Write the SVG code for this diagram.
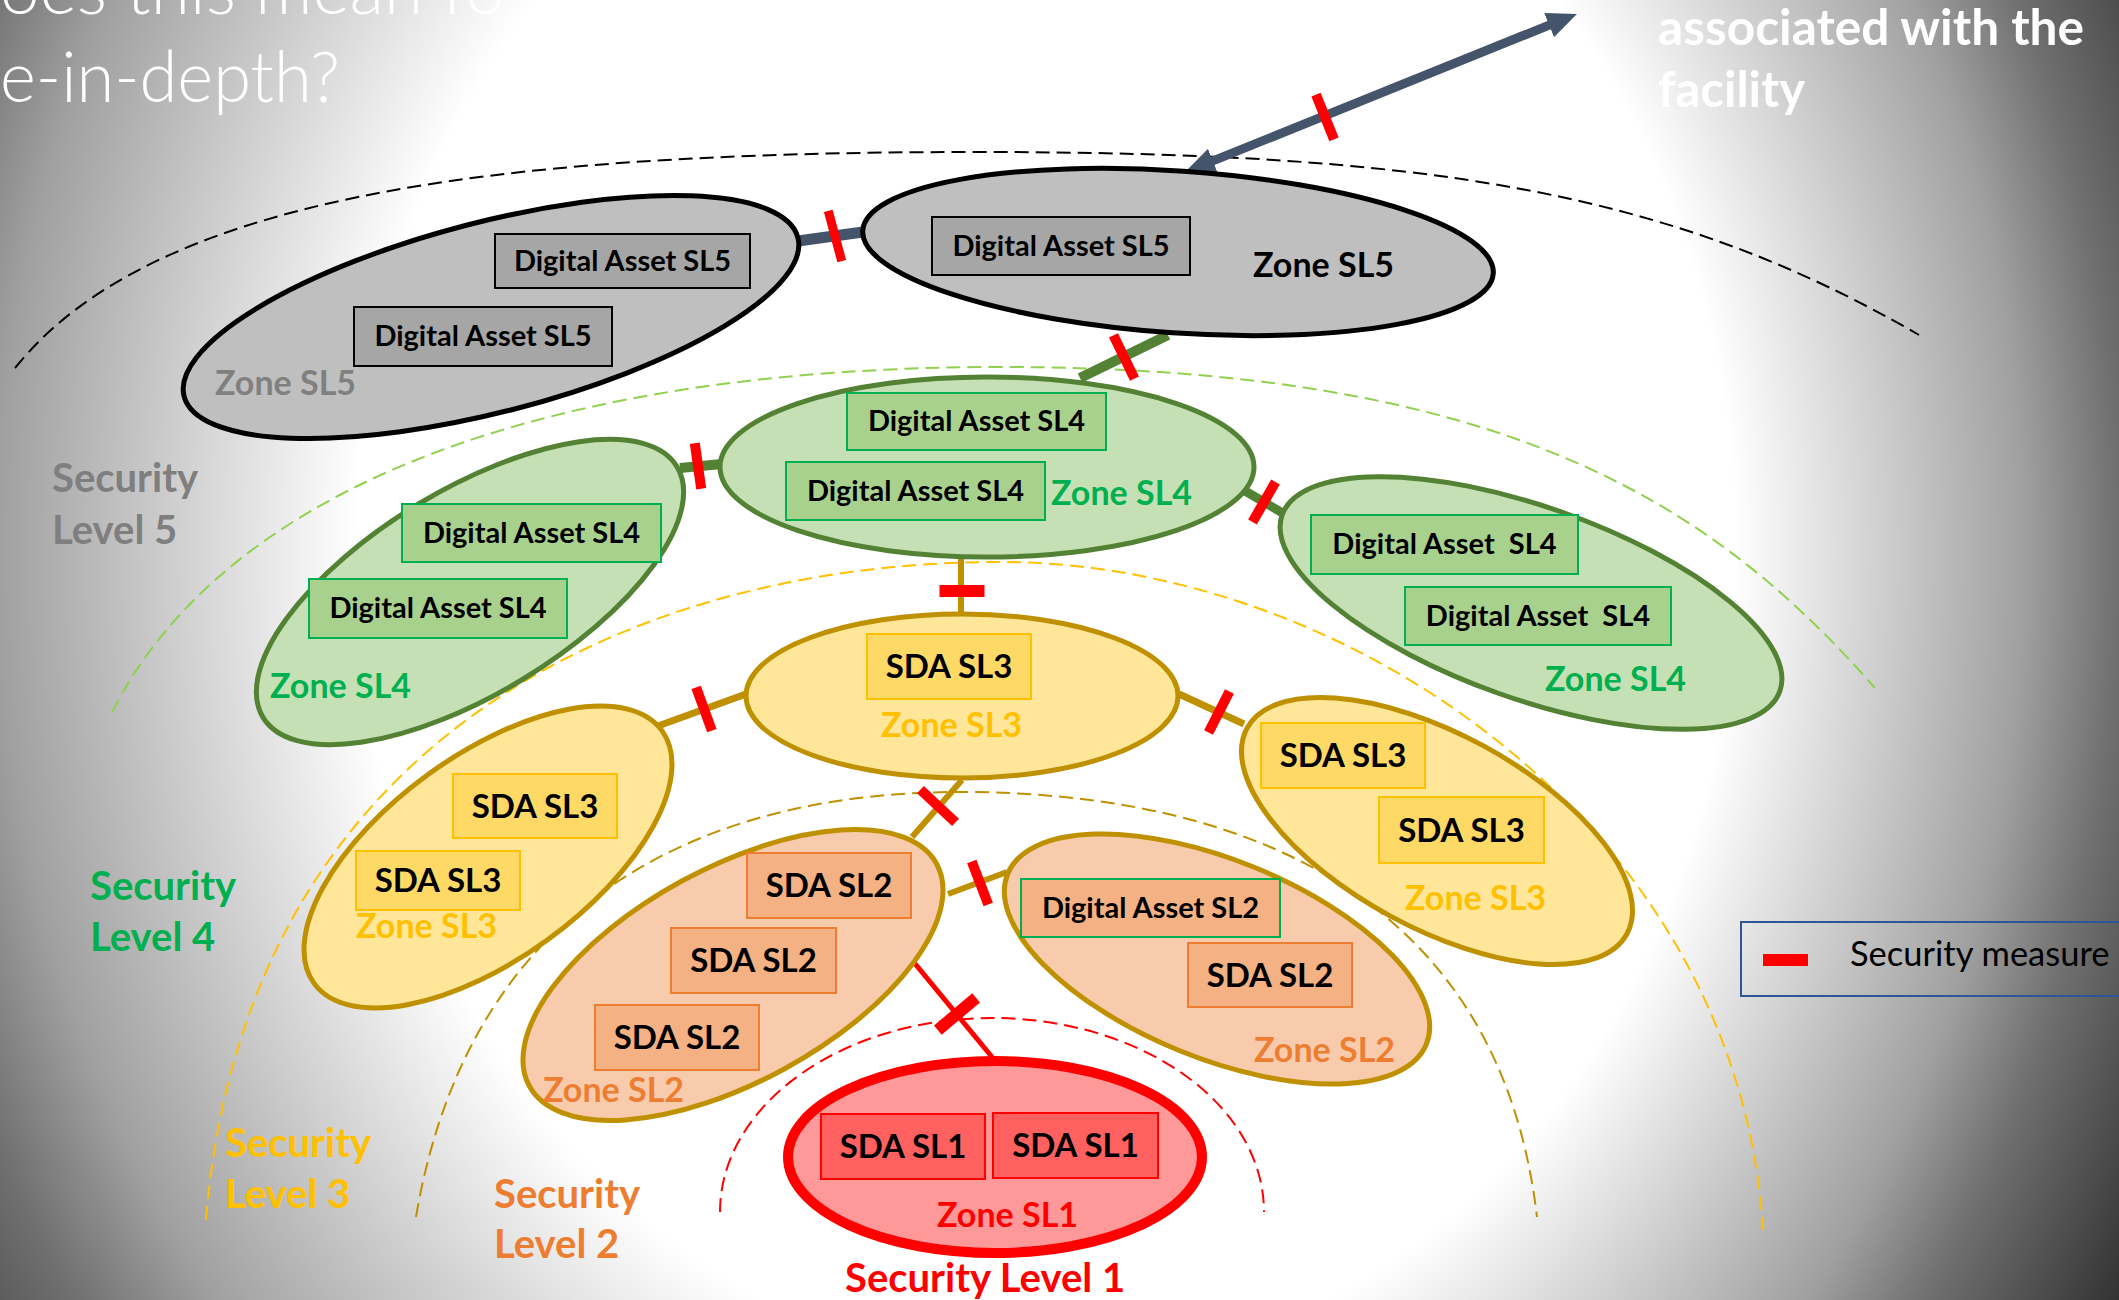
<svg xmlns="http://www.w3.org/2000/svg" width="2119" height="1300" viewBox="0 0 2119 1300">
<defs>
<radialGradient id="bg" gradientUnits="userSpaceOnUse" cx="980" cy="551" r="1300" fx="1120" fy="551" gradientTransform="translate(0 551) scale(1 1.19) translate(0 -551)">
<stop offset="0.53" stop-color="#ffffff"/>
<stop offset="0.78" stop-color="#a0a0a0"/>
<stop offset="0.86" stop-color="#707070"/>
<stop offset="1" stop-color="#333333"/>
</radialGradient>
<marker id="ah" markerUnits="userSpaceOnUse" viewBox="0 0 30 26" markerWidth="30" markerHeight="26" refX="10" refY="13" orient="auto-start-reverse"><path d="M0,0 L30,13 L0,26 z" fill="#44546a"/></marker>
<style>
.t{font-family:Lato,"Liberation Sans",sans-serif;font-weight:700}
.title{font-family:Lato,"Liberation Sans",sans-serif;font-weight:300;font-size:71px;fill:#fff}
.hd{font-family:Lato,"Liberation Sans",sans-serif;font-weight:700;font-size:49px;fill:#fff}
.da{font-size:29px;text-anchor:middle;fill:#000}
.sda{font-size:33px;text-anchor:middle;fill:#000}
.zn{font-size:34px}
.sl{font-size:40px}
.e5{fill:#bfbfbf;stroke:#000;stroke-width:5}
.e4{fill:#c5e0b4;stroke:#548235;stroke-width:5}
.e3{fill:#ffe699;stroke:#bf9000;stroke-width:5}
.e2{fill:#f8cbad;stroke:#bf9000;stroke-width:5}
.e1{fill:#ff9999;stroke:#ff0000;stroke-width:10}
.b5{fill:#a6a6a6;stroke:#000;stroke-width:2}
.b4{fill:#a9d18e;stroke:#00b050;stroke-width:2}
.b3{fill:#ffd966;stroke:#ffc000;stroke-width:2}
.b2{fill:#f4b183;stroke:#ed7d31;stroke-width:2}
.b2g{fill:#f4b183;stroke:#00b050;stroke-width:2}
.b1{fill:#ff6161;stroke:#ff0000;stroke-width:2}
.sm{fill:#ff0000}
.arc{fill:none;stroke-width:2;stroke-dasharray:14 7}
.c5{stroke:#44546a;fill:none}
.c4{stroke:#548235;fill:none}
.c3{stroke:#bf9000;fill:none}
.c1{stroke:#ff0000;fill:none}
</style>
</defs>
<rect x="0" y="0" width="2119" height="1300" fill="url(#bg)"/>

<g id="title">
<text class="title" x="0" y="14" textLength="505" lengthAdjust="spacingAndGlyphs">oes this mean fo</text>
<text class="title" x="0" y="102" textLength="340" lengthAdjust="spacingAndGlyphs">e-in-depth?</text>
<text class="hd" x="1658" y="45" textLength="426" lengthAdjust="spacingAndGlyphs">associated with the</text>
<text class="hd" x="1658" y="107">facility</text>
</g>

<g id="level-boundaries">
<path class="arc" stroke="#000" d="M15,368 C150,200 475,152 975,152 C1425,152 1669,190 1919,335"/>
<path class="arc" stroke="#92d050" d="M112,712 C230,480 560,367 1000,367 C1500,367 1710,500 1875,688"/>
<path class="arc" stroke="#ffc000" d="M206,1220 C245,740 630,562 1000,562 C1350,562 1739,830 1763,1230"/>
<path class="arc" stroke="#bf9000" d="M416,1217 C472,887 720,792 960,792 C1250,792 1500,900 1537,1217"/>
<path class="arc" stroke="#ff0000" d="M720,1212 A272,194 0 0 1 1264,1212"/>
</g>

<g id="connectors">
<line class="c5" x1="798" y1="241" x2="863" y2="232" stroke-width="11"/>
<line class="c5" x1="1203.6" y1="164.6" x2="1558.4" y2="21.4" stroke-width="9" marker-start="url(#ah)" marker-end="url(#ah)"/>
<line class="c4" x1="1168" y1="335" x2="1080" y2="378" stroke-width="10"/>
<line class="c4" x1="680" y1="468" x2="722" y2="464" stroke-width="10"/>
<line class="c4" x1="1240" y1="488" x2="1286" y2="515" stroke-width="9"/>
<line class="c3" x1="961" y1="556" x2="961" y2="614" stroke-width="6"/>
<line class="c3" x1="746" y1="694" x2="658" y2="726" stroke-width="7"/>
<line class="c3" x1="1179" y1="694" x2="1244" y2="724" stroke-width="7"/>
<line class="c3" x1="962" y1="780" x2="912" y2="837" stroke-width="6"/>
<line class="c3" x1="948" y1="894" x2="1007" y2="872" stroke-width="6"/>
<line class="c1" x1="912" y1="960" x2="992" y2="1057" stroke-width="5"/>
</g>

<g id="zone-sl5-left">
<ellipse class="e5" cx="491" cy="317" rx="317" ry="95" transform="rotate(-14.5 491 317)"/>
<rect class="b5" x="495" y="234" width="255" height="54"/>
<text class="t da" x="622.5" y="271">Digital Asset SL5</text>
<rect class="b5" x="354" y="307" width="258" height="59"/>
<text class="t da" x="483" y="346">Digital Asset SL5</text>
<text class="t zn" x="215" y="395" fill="#808080">Zone SL5</text>
</g>

<g id="zone-sl5-right">
<ellipse class="e5" cx="1178" cy="252" rx="316" ry="81" transform="rotate(3.9 1178 252)"/>
<rect class="b5" x="932" y="217" width="258" height="58"/>
<text class="t da" x="1061" y="256">Digital Asset SL5</text>
<text class="t zn" x="1253" y="277" fill="#000">Zone SL5</text>
</g>

<g id="zone-sl4-top">
<ellipse class="e4" cx="987" cy="467" rx="267" ry="90"/>
<rect class="b4" x="847" y="393" width="259" height="57"/>
<text class="t da" x="976.5" y="431">Digital Asset SL4</text>
<rect class="b4" x="786" y="462" width="259" height="58"/>
<text class="t da" x="915.5" y="501">Digital Asset SL4</text>
<text class="t zn" x="1051" y="505" fill="#00b050">Zone SL4</text>
</g>

<g id="zone-sl4-left">
<ellipse class="e4" cx="470" cy="592" rx="242" ry="102" transform="rotate(-31.2 470 592)"/>
<rect class="b4" x="402" y="504" width="259" height="58"/>
<text class="t da" x="531.5" y="543">Digital Asset SL4</text>
<rect class="b4" x="309" y="579" width="258" height="59"/>
<text class="t da" x="438" y="618">Digital Asset SL4</text>
<text class="t zn" x="270" y="698" fill="#00b050">Zone SL4</text>
</g>

<g id="zone-sl4-right">
<ellipse class="e4" cx="1531" cy="603" rx="264" ry="96" transform="rotate(19.5 1531 603)"/>
<rect class="b4" x="1311" y="515" width="267" height="59"/>
<text class="t da" x="1444.5" y="554" style="white-space:pre">Digital Asset  SL4</text>
<rect class="b4" x="1405" y="587" width="266" height="58"/>
<text class="t da" x="1538" y="626" style="white-space:pre">Digital Asset  SL4</text>
<text class="t zn" x="1545" y="691" fill="#00b050">Zone SL4</text>
</g>

<g id="zone-sl3-center">
<ellipse class="e3" cx="962" cy="696" rx="216" ry="82"/>
<rect class="b3" x="867" y="634" width="164" height="65"/>
<text class="t sda" x="949" y="678">SDA SL3</text>
<text class="t zn" x="881" y="737" fill="#ffc000">Zone SL3</text>
</g>

<g id="zone-sl3-left">
<ellipse class="e3" cx="488" cy="857" rx="215" ry="102" transform="rotate(-36 488 857)"/>
<rect class="b3" x="453" y="774" width="164" height="64"/>
<text class="t sda" x="535" y="818">SDA SL3</text>
<rect class="b3" x="356" y="851" width="164" height="59"/>
<text class="t sda" x="438" y="892">SDA SL3</text>
<text class="t zn" x="356" y="938" fill="#ffc000">Zone SL3</text>
</g>

<g id="zone-sl3-right">
<ellipse class="e3" cx="1437" cy="831" rx="216" ry="97" transform="rotate(28.4 1437 831)"/>
<rect class="b3" x="1261" y="723" width="164" height="65"/>
<text class="t sda" x="1343" y="767">SDA SL3</text>
<rect class="b3" x="1379" y="797" width="165" height="66"/>
<text class="t sda" x="1461.5" y="842">SDA SL3</text>
<text class="t zn" x="1405" y="910" fill="#ffc000">Zone SL3</text>
</g>

<g id="zone-sl2-left">
<ellipse class="e2" cx="733" cy="975" rx="232" ry="107" transform="rotate(-28.6 733 975)"/>
<rect class="b2" x="747" y="853" width="164" height="65"/>
<text class="t sda" x="829" y="897">SDA SL2</text>
<rect class="b2" x="671" y="928" width="165" height="65"/>
<text class="t sda" x="753.5" y="972">SDA SL2</text>
<rect class="b2" x="595" y="1005" width="164" height="65"/>
<text class="t sda" x="677" y="1049">SDA SL2</text>
<text class="t zn" x="543" y="1102" fill="#ed7d31">Zone SL2</text>
</g>

<g id="zone-sl2-right">
<ellipse class="e2" cx="1217" cy="959" rx="226" ry="99" transform="rotate(22.1 1217 959)"/>
<rect class="b2g" x="1021" y="879" width="259" height="58"/>
<text class="t da" x="1150.5" y="918">Digital Asset SL2</text>
<rect class="b2" x="1188" y="943" width="164" height="64"/>
<text class="t sda" x="1270" y="987">SDA SL2</text>
<text class="t zn" x="1254" y="1062" fill="#ed7d31">Zone SL2</text>
</g>

<g id="zone-sl1">
<ellipse class="e1" cx="995" cy="1157" rx="207" ry="96"/>
<rect class="b1" x="821" y="1114" width="164" height="65"/>
<text class="t sda" x="903" y="1158">SDA SL1</text>
<rect class="b1" x="993" y="1113" width="165" height="65"/>
<text class="t sda" x="1075.5" y="1157">SDA SL1</text>
<text class="t zn" x="937" y="1227" fill="#ff0000">Zone SL1</text>
</g>

<g id="security-measures">
<rect class="sm" x="-4.5" y="-26" width="9" height="52" transform="translate(835 236) rotate(-15)"/>
<rect class="sm" x="-5" y="-24" width="10" height="48" transform="translate(1325 117) rotate(-22)"/>
<rect class="sm" x="-5" y="-24" width="10" height="48" transform="translate(1124 357) rotate(-26)"/>
<rect class="sm" x="-5" y="-23" width="10" height="46" transform="translate(698 466) rotate(-8)"/>
<rect class="sm" x="-5" y="-23" width="10" height="46" transform="translate(1264 502) rotate(30)"/>
<rect class="sm" x="939.5" y="585" width="45" height="12"/>
<rect class="sm" x="-5" y="-23" width="10" height="46" transform="translate(704 709) rotate(-20)"/>
<rect class="sm" x="-5" y="-23" width="10" height="46" transform="translate(1219 712) rotate(27)"/>
<rect class="sm" x="-5" y="-24" width="10" height="48" transform="translate(938 806) rotate(-47)"/>
<rect class="sm" x="-5" y="-23" width="10" height="46" transform="translate(980 883) rotate(-21)"/>
<rect class="sm" x="-6" y="-25" width="12" height="50" transform="translate(957 1014) rotate(50)"/>
</g>

<g id="security-levels">
<text class="t sl" fill="#7f7f7f"><tspan x="52" y="492">Security</tspan><tspan x="52" y="544">Level 5</tspan></text>
<text class="t sl" fill="#00b050"><tspan x="90" y="900">Security</tspan><tspan x="90" y="951">Level 4</tspan></text>
<text class="t sl" fill="#ffc000"><tspan x="225" y="1157">Security</tspan><tspan x="225" y="1208">Level 3</tspan></text>
<text class="t sl" fill="#ed7d31"><tspan x="494" y="1208">Security</tspan><tspan x="494" y="1258">Level 2</tspan></text>
<text class="t sl" fill="#ff0000" x="845" y="1292">Security Level 1</text>
</g>

<g id="legend">
<rect x="1741" y="922" width="400" height="74" fill="none" stroke="#2f5597" stroke-width="2"/>
<rect class="sm" x="1763" y="954" width="45" height="12"/>
<text x="1850" y="966" font-family="Lato, 'Liberation Sans', sans-serif" font-size="34.5" fill="#000">Security measure</text>
</g>
</svg>
